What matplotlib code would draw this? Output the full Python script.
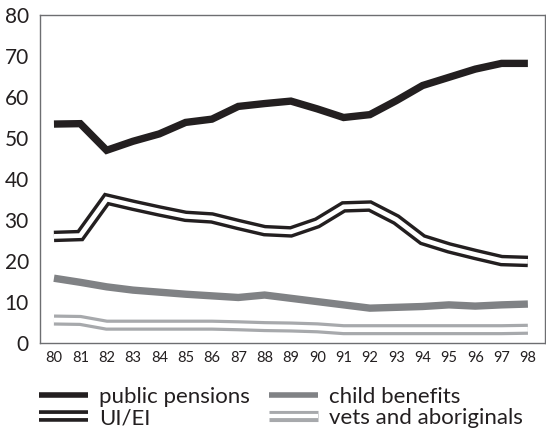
import matplotlib
matplotlib.use("Agg")
import matplotlib.pyplot as plt
import matplotlib.patheffects as pe
from matplotlib.lines import Line2D

plt.rcParams['font.family'] = ['Lato', 'DejaVu Sans']

years = ['80', '81', '82', '83', '84', '85', '86', '87', '88', '89',
         '90', '91', '92', '93', '94', '95', '96', '97', '98']
public_pensions = [53.4, 53.5, 47.0, 49.2, 51.0, 53.8, 54.6, 57.7, 58.4, 59.0,
                   57.1, 55.0, 55.7, 59.1, 62.8, 64.8, 66.8, 68.2, 68.2]
ui_ei = [26.0, 26.2, 35.1, 33.6, 32.2, 30.9, 30.5, 28.9, 27.4, 27.1,
         29.3, 33.2, 33.4, 30.1, 25.2, 23.2, 21.6, 20.1, 19.9]
child_benefits = [15.8, 14.8, 13.7, 12.9, 12.4, 11.9, 11.5, 11.1, 11.7, 10.9,
                  10.1, 9.3, 8.5, 8.7, 8.9, 9.3, 9.0, 9.3, 9.5]
vets_aboriginals = [5.6, 5.5, 4.35, 4.35, 4.35, 4.35, 4.35, 4.2, 4.0, 3.9,
                    3.7, 3.25, 3.25, 3.25, 3.25, 3.25, 3.25, 3.25, 3.35]
series_labels = ['public pensions', 'UI/EI', 'child benefits', 'vets and aboriginals']

BLACK = '#231f20'
GRAY = '#808285'
LGRAY = '#a7a9ac'

fig = plt.figure(figsize=(5.46, 4.40), dpi=100)
ax = fig.add_axes([40/546, 97/440, 505/546, 328/440])

x = list(range(len(years)))

ax.plot(x, public_pensions, color=BLACK, lw=5.3, solid_capstyle='butt',
        solid_joinstyle='miter')
ax.plot(x, ui_ei, color='white', lw=3.4, solid_capstyle='butt', solid_joinstyle='miter',
        path_effects=[pe.Stroke(linewidth=8.3, foreground=BLACK), pe.Normal()])
ax.plot(x, child_benefits, color=GRAY, lw=5.3, solid_capstyle='butt',
        solid_joinstyle='miter')
ax.plot(x, vets_aboriginals, color='white', lw=3.4, solid_capstyle='butt', solid_joinstyle='miter',
        path_effects=[pe.Stroke(linewidth=8.0, foreground=LGRAY), pe.Normal()])

ax.set_xlim(-0.53, 18.65)
ax.set_ylim(0, 80)
ax.set_xticks(x)
ax.set_xticklabels(years)
ax.set_yticks([0, 10, 20, 30, 40, 50, 60, 70, 80])
ax.tick_params(axis='both', length=0, colors='#231f20')
ax.tick_params(axis='y', labelsize=15, pad=8)
ax.tick_params(axis='x', labelsize=10.5, pad=6)
for s in ax.spines.values():
    s.set_color('#6d6e71')
    s.set_linewidth(1.0)

handles = [
    Line2D([], [], color=BLACK, lw=4.0, solid_capstyle='butt'),
    Line2D([], [], color='white', lw=3.0, solid_capstyle='butt',
           path_effects=[pe.Stroke(linewidth=8.3, foreground=BLACK), pe.Normal()]),
    Line2D([], [], color=GRAY, lw=4.0, solid_capstyle='butt'),
    Line2D([], [], color='white', lw=3.0, solid_capstyle='butt',
           path_effects=[pe.Stroke(linewidth=8.0, foreground=LGRAY), pe.Normal()]),
]
leg = fig.legend(handles, series_labels, ncol=2, loc='upper left',
                 bbox_to_anchor=(39/546, 1 - 387/440), frameon=False,
                 handlelength=2.2, handletextpad=0.5,
                 columnspacing=0.85, labelspacing=0.05, borderaxespad=0,
                 borderpad=0, prop={'size': 16})
for t in leg.get_texts():
    t.set_color('#231f20')

fig.savefig('out.png', dpi=100)
